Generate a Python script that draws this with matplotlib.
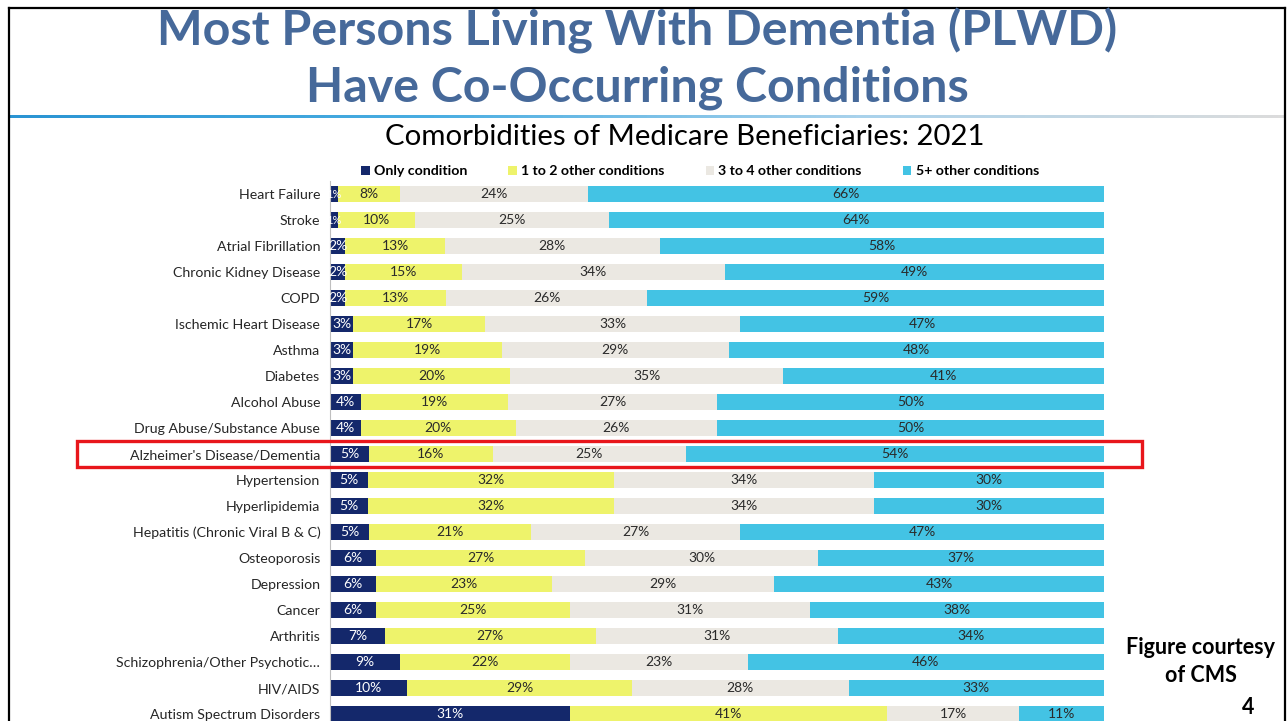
""" stacked bar chart of comorbidities for medicare beneficiaries """

import numpy as np
import matplotlib.pyplot as plt
from matplotlib.colors import LinearSegmentedColormap
from matplotlib.patches import Rectangle

plt.rcParams['font.family'] = ['Lato', 'DejaVu Sans']

categories = ['Heart Failure', 'Stroke', 'Atrial Fibrillation', 'Chronic Kidney Disease',
              'COPD', 'Ischemic Heart Disease', 'Asthma', 'Diabetes', 'Alcohol Abuse',
              'Drug Abuse/Substance Abuse', "Alzheimer's Disease/Dementia", 'Hypertension',
              'Hyperlipidemia', 'Hepatitis (Chronic Viral B & C)', 'Osteoporosis',
              'Depression', 'Cancer', 'Arthritis', 'Schizophrenia/Other Psychotic\u2026',
              'HIV/AIDS', 'Autism Spectrum Disorders']
only_condition = [1, 1, 2, 2, 2, 3, 3, 3, 4, 4, 5, 5, 5, 5, 6, 6, 6, 7, 9, 10, 31]
one_to_two = [8, 10, 13, 15, 13, 17, 19, 20, 19, 20, 16, 32, 32, 21, 27, 23, 25, 27, 22, 29, 41]
three_to_four = [24, 25, 28, 34, 26, 33, 29, 35, 27, 26, 25, 34, 34, 27, 30, 29, 31, 31, 23, 28, 17]
five_plus = [66, 64, 58, 49, 59, 47, 48, 41, 50, 50, 54, 30, 30, 47, 37, 43, 38, 34, 46, 33, 11]
series_names = ['Only condition', '1 to 2 other conditions',
                '3 to 4 other conditions', '5+ other conditions']

colors = ['#14286b', '#eef36b', '#ebe8e2', '#43c3e4']
text_colors = ['white', '#2a2a2a', '#2a2a2a', '#2a2a2a']
title_color = '#46699a'

W, H = 1288, 721
fig = plt.figure(figsize=(W / 100, H / 100), dpi=100)


def fx(px):
    return px / W


def fy(py):
    return 1 - py / H


# slide frame
fig.add_artist(plt.Line2D([fx(9), fx(9)], [0, fy(8)], color='black', lw=1.6))
fig.add_artist(plt.Line2D([fx(9), fx(1285)], [fy(8), fy(8)], color='black', lw=1.6))
fig.add_artist(plt.Line2D([fx(1285), fx(1285)], [0, fy(8)], color='black', lw=1.6))

# gradient rule under the title
gax = fig.add_axes([fx(10), fy(118), fx(1275), 3 / H])
cmap = LinearSegmentedColormap.from_list('rule', ['#2a94d3', '#4aaee2', '#a9d2ec', '#dcdcdc'])
gax.imshow(np.linspace(0, 1, 256)[None, :], aspect='auto', cmap=cmap)
gax.axis('off')

fig.text(fx(637), fy(31), 'Most Persons Living With Dementia (PLWD)', ha='center', va='center',
         fontsize=34.8, fontweight='bold', color=title_color)
fig.text(fx(637), fy(88), 'Have Co-Occurring Conditions', ha='center', va='center',
         fontsize=34.8, fontweight='bold', color=title_color)
fig.text(fx(685), fy(137), 'Comorbidities of Medicare Beneficiaries: 2021', ha='center',
         va='center', fontsize=21.2, color='black')

# main chart
ax = fig.add_axes([fx(330), 0, fx(1104) - fx(330), fy(181)])
data = np.array([only_condition, one_to_two, three_to_four, five_plus], dtype=float)
shares = data / data.sum(axis=0) * 100
y = np.arange(len(categories))
left = np.zeros(len(categories))
handles = []
for k in range(4):
    bars = ax.barh(y, shares[k], left=left, height=0.62, color=colors[k], label=series_names[k])
    handles.append(bars)
    for i in range(len(categories)):
        fs = 10 if data[k, i] >= 2 else 8
        ax.text(left[i] + shares[k, i] / 2, y[i], f'{int(data[k, i])}%', ha='center',
                va='center', fontsize=fs, color=text_colors[k])
    left += shares[k]

ax.set_xlim(0, 100)
ax.set_ylim(len(categories) - 1 + 7 / 26, -0.5)
ax.set_yticks(y)
ax.set_yticklabels(categories, fontsize=10.2, color='#262626')
ax.tick_params(axis='y', length=0, pad=7)
ax.set_xticks([])
for side in ['top', 'right', 'bottom']:
    ax.spines[side].set_visible(False)
ax.spines['left'].set_color('#bfbfbf')

fig.legend(handles=handles, labels=series_names, loc='center', bbox_to_anchor=(fx(700), fy(171)),
           ncol=4, frameon=False, handlelength=0.6, handleheight=0.6,
           handletextpad=0.3, columnspacing=2.9, prop={'weight': 'bold', 'size': 10.2})

# highlight box around the dementia row
fig.add_artist(Rectangle((fx(77), fy(467)), fx(1142) - fx(77), (467 - 441) / H,
                         fill=False, edgecolor='#e8161b', lw=2.4))

fig.text(fx(1201), fy(647), 'Figure courtesy', ha='center', va='center', fontsize=15.5,
         fontweight='bold')
fig.text(fx(1201), fy(675), 'of CMS', ha='center', va='center', fontsize=15.5, fontweight='bold')
fig.text(fx(1248), fy(708), '4', ha='center', va='center', fontsize=15.5, fontweight='bold')

fig.savefig('out.png', dpi=100)
